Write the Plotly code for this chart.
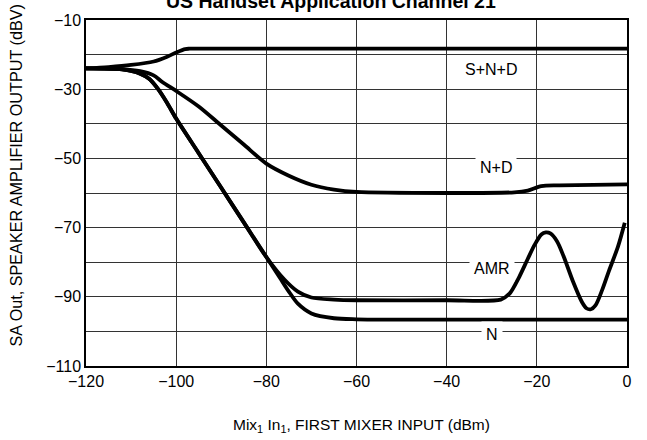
import plotly.graph_objects as go

# S+N+D
snd_x = [-120, -115, -110, -105, -102, -100, -98, -97, -60, -20, 0]
snd_y = [-24, -23.6, -23, -22, -20.6, -19.4, -18.4, -18.3, -18.3, -18.3, -18.3]
# N+D
nd_x = [-120, -112, -108, -105, -103, -100, -95, -90, -85, -80, -75, -70, -65, -60, -40, -25, -22, -19, -15, 0]
nd_y = [-24, -24.2, -24.8, -26, -28, -30.5, -35, -40.5, -46, -51.5, -55, -57.6, -59, -59.7, -60, -59.8, -59.3, -58, -57.8, -57.5]
# N
n_x = [-120, -112, -108, -106, -104, -102, -100, -95, -90, -85, -80, -77, -75, -73, -70, -65, -60, -30, 0]
n_y = [-24, -24.3, -25.5, -27, -30, -34, -38.5, -48.5, -58.5, -68.5, -78.5, -84.5, -88.5, -92, -94.8, -96.2, -96.5, -96.6, -96.6]
# AMR
amr_x = [-120, -112, -108, -106, -104, -102, -100, -95, -90, -85, -80, -76, -73, -70, -65, -60, -40, -28, -26, -24, -22, -20.5, -19, -18, -17, -15.5, -14, -12, -10, -9, -8, -7, -5.5, -4, -2, -0.5]
amr_y = [-24, -24.3, -25.5, -27, -30, -34, -38.5, -48.5, -58.5, -68.5, -78.5, -85, -88.5, -90.2, -90.8, -91, -91, -90.8, -89, -84.5, -79, -75, -72, -71.4, -71.7, -74, -78.5, -85.5, -91.5, -93.3, -93.6, -92.5, -88, -82.5, -75.5, -68.6]

x_ticks = [-120, -100, -80, -60, -40, -20, 0]
y_grid = [-110, -100, -90, -80, -70, -60, -50, -40, -30, -20, -10]
y_labels = ["\u2212110", "", "\u221290", "", "\u221270", "", "\u221250", "", "\u221230", "", "\u221210"]
x_labels = ["\u2212120", "\u2212100", "\u221280", "\u221260", "\u221240", "\u221220", "0"]

FONT = "Liberation Sans, Arial, sans-serif"
fig = go.Figure()
for xs, ys in [(snd_x, snd_y), (nd_x, nd_y), (n_x, n_y), (amr_x, amr_y)]:
    fig.add_trace(go.Scatter(x=xs, y=ys, mode="lines",
                             line=dict(color="black", width=3.8, shape="spline", smoothing=0.8),
                             showlegend=False, hoverinfo="skip"))

labels = [("S+N+D", -30.2, -24.4), ("N+D", -29.1, -52.5), ("AMR", -30.0, -81.8), ("N", -30.0, -100.9)]
for t, lx, ly in labels:
    fig.add_annotation(x=lx, y=ly, xref="x", yref="y", text=t, showarrow=False,
                       font=dict(family=FONT, size=16, color="black"),
                       bgcolor="white", borderpad=4)

fig.add_annotation(x=0.453, y=1, xref="paper", yref="paper", yanchor="middle", yshift=19,
                   text="<b>US Handset Application Channel 21</b>", showarrow=False,
                   font=dict(family=FONT, size=19.5, color="black"))
fig.add_annotation(x=-0.15, y=0.55, xref="paper", yref="paper", textangle=-90,
                   text="SA Out, SPEAKER AMPLIFIER OUTPUT (dBV)", showarrow=False,
                   font=dict(family=FONT, size=16.2, color="black"))
fig.add_annotation(x=0.51, y=0, xref="paper", yref="paper", yanchor="middle", yshift=-59,
                   text="Mix<sub>1</sub> In<sub>1</sub>, FIRST MIXER INPUT (dBm)", showarrow=False,
                   font=dict(family=FONT, size=15.5, color="black"))

fig.update_layout(
    width=647, height=440,
    margin=dict(l=86, r=20, t=15, b=74),
    paper_bgcolor="white", plot_bgcolor="white",
    font=dict(family=FONT, size=16, color="black"),
)
fig.update_xaxes(range=[-120, 0], tickvals=x_ticks, ticktext=x_labels,
                 showgrid=True, gridcolor="#333", gridwidth=1.2,
                 showline=True, linecolor="black", linewidth=1.5, mirror=True,
                 zeroline=False, ticks="", tickfont=dict(size=16))
fig.update_yaxes(range=[-110, -10], tickvals=y_grid, ticktext=y_labels,
                 showgrid=True, gridcolor="#333", gridwidth=1.2,
                 showline=True, linecolor="black", linewidth=1.5, mirror=True,
                 zeroline=False, ticks="", tickfont=dict(size=16))

fig.write_html("out.html", config={"displayModeBar": False},
               post_script="document.body.style.margin='0';document.body.style.overflow='hidden';")
